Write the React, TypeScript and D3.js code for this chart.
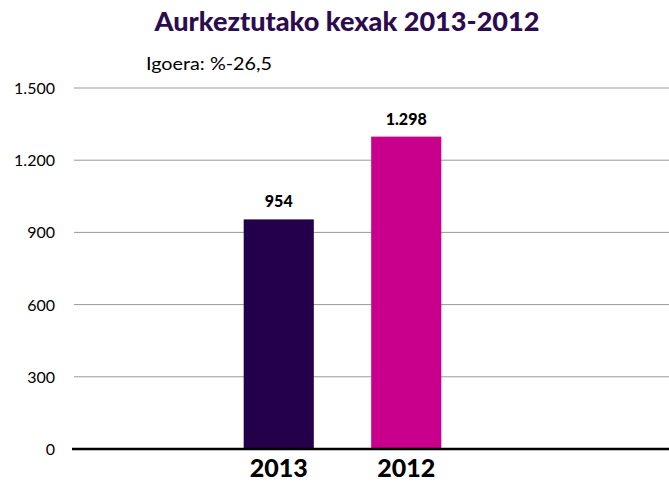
import React from "react";
import * as d3 from "d3";

const years = ["2013", "2012"];
const complaints = [954, 1298];
const valueLabels = ["954", "1.298"];
const barColors = ["#24004A", "#C8008C"];
const yTicks = [0, 300, 600, 900, 1200, 1500];
const title = "Aurkeztutako kexak 2013-2012";
const subtitle = "Igoera: %-26,5";

const width = 669;
const height = 484;
const font = "Lato, 'Open Sans', sans-serif";

export default function App() {
  const yScale = d3.scaleLinear().domain([0, 1500]).range([449, 88]);
  const xScale = d3
    .scaleBand<string>()
    .domain(years)
    .range([215, 470])
    .paddingInner(0.45)
    .paddingOuter(0.225);
  const fmt = (v: number) => d3.format(",")(v).replace(/,/g, ".");

  return (
    <svg
      width={width}
      height={height}
      style={{ position: "absolute", left: 0, top: 0, background: "#fff" }}
      fontFamily={font}
    >
      <text
        x={347}
        y={31}
        textAnchor="middle"
        fontSize={26}
        fontWeight={900}
        fill="#2C0C4E"
        textLength={385}
        lengthAdjust="spacingAndGlyphs"
      >
        {title}
      </text>
      <text x={146} y={70} fontSize={17} fill="#000" textLength={126} lengthAdjust="spacingAndGlyphs">
        {subtitle}
      </text>

      {yTicks.map((t) => (
        <g key={t}>
          {t > 0 && (
            <line x1={74} x2={width} y1={yScale(t)} y2={yScale(t)} stroke="#999" strokeWidth={1} />
          )}
          <text x={55} y={yScale(t) + 6} textAnchor="end" fontSize={16} fill="#000">
            {fmt(t)}
          </text>
        </g>
      ))}

      {years.map((yr, i) => (
        <g key={yr}>
          <rect
            x={xScale(yr)}
            y={yScale(complaints[i])}
            width={xScale.bandwidth()}
            height={yScale(0) - yScale(complaints[i])}
            fill={barColors[i]}
          />
          <text
            x={(xScale(yr) ?? 0) + xScale.bandwidth() / 2}
            y={yScale(complaints[i]) - 12}
            textAnchor="middle"
            fontSize={16}
            fontWeight={900}
            fill="#000"
          >
            {valueLabels[i]}
          </text>
          <text
            x={(xScale(yr) ?? 0) + xScale.bandwidth() / 2}
            y={477}
            textAnchor="middle"
            fontSize={25}
            fontWeight={900}
            fill="#000"
          >
            {yr}
          </text>
        </g>
      ))}

      <line x1={72} x2={width} y1={yScale(0)} y2={yScale(0)} stroke="#000" strokeWidth={2.5} />
    </svg>
  );
}
